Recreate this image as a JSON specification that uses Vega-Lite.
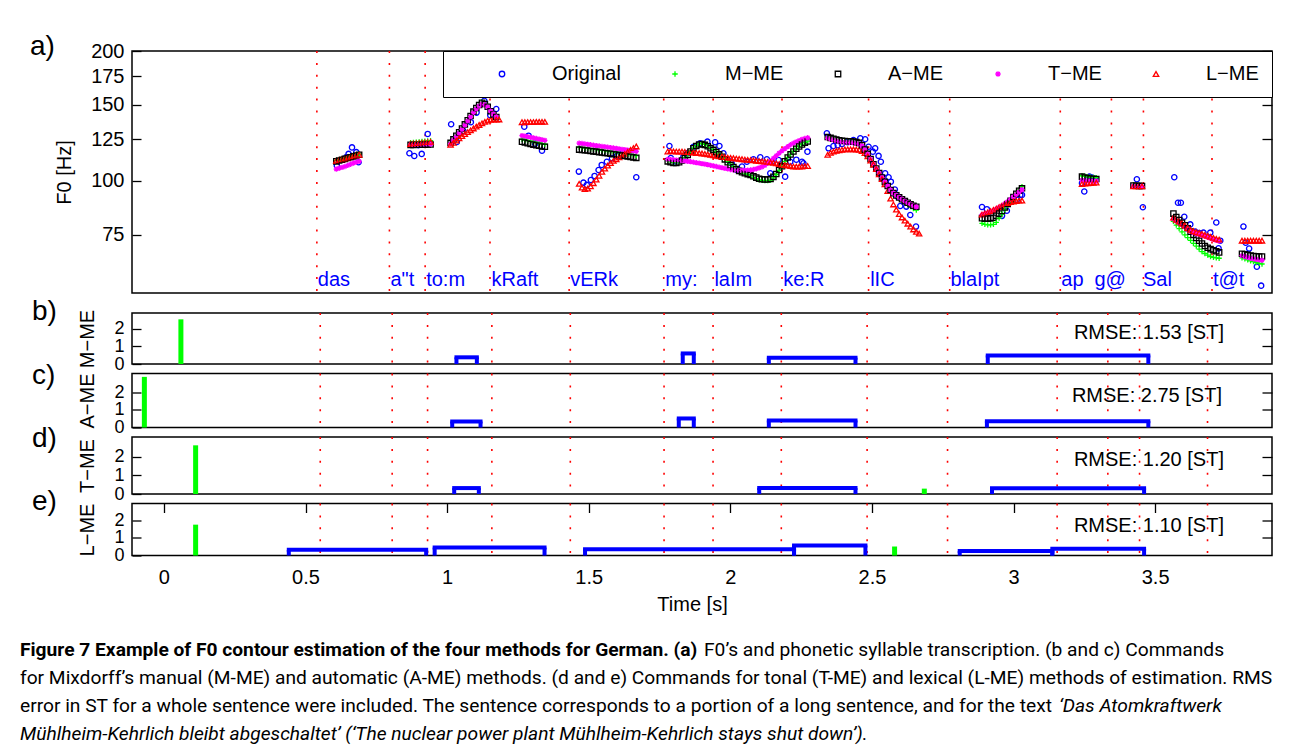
{
"$schema":"https://vega.github.io/schema/vega-lite/v6.json",
"background":"white",
"padding":{"left":20,"top":32,"right":5,"bottom":0},
"bounds":"flush",
"spacing":9.5,
"config":{
 "font":"Liberation Sans",
 "view":{"stroke":"#000000","strokeWidth":1.5},
 "axis":{"labelFont":"Liberation Sans","labelFontSize":20,"labelColor":"#000000","titleFont":"Liberation Sans","titleFontSize":20,"titleFontWeight":"normal","titleColor":"#000000","grid":false,"domain":false,"tickColor":"#000000","tickWidth":1.3,"labelFlush":false,"labelOverlap":false},
 "title":{"fontSize":28,"fontWeight":"normal","anchor":"start","frame":"group","baseline":"alphabetic","color":"#000000","dx":-100,"offset":-17}
},
"datasets":{
 "bounds":[{"t":0.552},{"t":0.806},{"t":0.931},{"t":1.158},{"t":1.435},{"t":1.766},{"t":1.939},{"t":2.18},{"t":2.483},{"t":2.767},{"t":3.154},{"t":3.333},{"t":3.445},{"t":3.685}],
 "syl":[{"t":0.552,"s":"das"},{"t":0.806,"s":"a\"t"},{"t":0.931,"s":"to:m"},{"t":1.16,"s":"kRaft"},{"t":1.435,"s":"vERk"},{"t":1.768,"s":"my:"},{"t":1.94,"s":"laIm"},{"t":2.181,"s":"ke:R"},{"t":2.485,"s":"lIC"},{"t":2.766,"s":"blaIpt"},{"t":3.154,"s":"ap"},{"t":3.27,"s":"g@"},{"t":3.44,"s":"Sal"},{"t":3.685,"s":"t@t"}],
 "imp":[{"p":"M","t":0.06,"a":2.54},{"p":"A","t":-0.069,"a":2.86},{"p":"T","t":0.112,"a":2.63},{"p":"T","t":2.685,"a":0.29},{"p":"L","t":0.112,"a":1.75},{"p":"L","t":2.58,"a":0.51}],
 "acc":[
  {"p":"M","on":1.033,"off":1.105,"a":0.38},{"p":"M","on":1.832,"off":1.871,"a":0.6},{"p":"M","on":2.136,"off":2.442,"a":0.36},{"p":"M","on":2.909,"off":3.476,"a":0.49},
  {"p":"A","on":1.018,"off":1.118,"a":0.34},{"p":"A","on":1.818,"off":1.871,"a":0.51},{"p":"A","on":2.136,"off":2.442,"a":0.4},{"p":"A","on":2.906,"off":3.476,"a":0.36},
  {"p":"T","on":1.025,"off":1.112,"a":0.32},{"p":"T","on":2.102,"off":2.442,"a":0.32},{"p":"T","on":2.924,"off":3.461,"a":0.31},
  {"p":"L","on":0.441,"off":0.926,"a":0.32},{"p":"L","on":0.956,"off":1.344,"a":0.45},{"p":"L","on":1.487,"off":2.225,"a":0.36},{"p":"L","on":2.225,"off":2.477,"a":0.57},{"p":"L","on":2.81,"off":3.137,"a":0.25},{"p":"L","on":3.137,"off":3.461,"a":0.38}
 ],
 "rmse":[{"p":"M","r":"RMSE: 1.53 [ST]"},{"p":"A","r":"RMSE: 2.75 [ST]"},{"p":"T","r":"RMSE: 1.20 [ST]"},{"p":"L","r":"RMSE: 1.10 [ST]"}],
 "cap":[
  {"line":1,"k":"b","text":"Figure 7 Example of F0 contour estimation of the four methods for German. (a)"},
  {"line":1,"k":"r1","text":"F0’s and phonetic syllable transcription. (b and c) Commands"},
  {"line":2,"k":"r","text":"for Mixdorff’s manual (M-ME) and automatic (A-ME) methods. (d and e) Commands for tonal (T-ME) and lexical (L-ME) methods of estimation. RMS"},
  {"line":3,"k":"r","text":"error in ST for a whole sentence were included. The sentence corresponds to a portion of a long sentence, and for the text"},
  {"line":3,"k":"i3","text":"‘Das Atomkraftwerk"},
  {"line":4,"k":"i","text":"Mühlheim-Kehrlich bleibt abgeschaltet’ (‘The nuclear power plant Mühlheim-Kehrlich stays shut down’)."}
 ],
 "f0":[
  {"t":0.622,"O":108.5},{"t":0.655,"O":113.5},{"t":0.663,"O":115.5},{"t":0.675,"O":119.6},{"t":0.69,"O":116.6},{"t":0.698,"O":110.5},
  {"t":0.876,"O":115.9},{"t":0.893,"O":114.2},{"t":0.907,"O":121},{"t":0.919,"O":115.5},{"t":0.94,"O":128.5},
  {"t":1.022,"O":135.3},{"t":1.042,"O":123.1},{"t":1.065,"O":130.5},{"t":1.091,"O":136.8},{"t":1.111,"O":144},{"t":1.138,"O":153.3},{"t":1.159,"O":142},{"t":1.18,"O":146.8},
  {"t":1.278,"O":133.6},{"t":1.293,"O":127.3},{"t":1.316,"O":122},{"t":1.34,"O":117.5},
  {"t":1.469,"O":105.1},{"t":1.485,"O":99.1},{"t":1.497,"O":97.9},{"t":1.511,"O":100.5},{"t":1.524,"O":102.7},{"t":1.538,"O":106},{"t":1.549,"O":108.9},{"t":1.567,"O":110.8},{"t":1.585,"O":112.9},{"t":1.602,"O":114.3},{"t":1.62,"O":115.5},{"t":1.643,"O":116.9},{"t":1.67,"O":102},
  {"t":1.786,"O":120.5},{"t":1.791,"O":113},{"t":1.806,"O":111},{"t":1.835,"O":113.8},{"t":1.85,"O":116},{"t":1.87,"O":120},{"t":1.894,"O":122.3},{"t":1.919,"O":123.3},{"t":1.946,"O":122.9},{"t":1.961,"O":120.5},{"t":1.975,"O":115.9},{"t":1.99,"O":112},{"t":2.004,"O":109.9},{"t":2.022,"O":106},{"t":2.04,"O":108},{"t":2.057,"O":110.8},{"t":2.08,"O":112.2},{"t":2.104,"O":113.4},{"t":2.127,"O":112.2},{"t":2.139,"O":104.2},{"t":2.145,"O":110.8},{"t":2.168,"O":111.8},{"t":2.191,"O":102.3},{"t":2.209,"O":110.8},{"t":2.23,"O":112},{"t":2.25,"O":110.8},{"t":2.255,"O":109.9},{"t":2.269,"O":116.9},
  {"t":2.337,"O":128.9},{"t":2.343,"O":119},{"t":2.36,"O":120.5},{"t":2.375,"O":121},{"t":2.39,"O":121.8},{"t":2.41,"O":123},{"t":2.43,"O":124.4},{"t":2.454,"O":125.5},{"t":2.471,"O":124.9},{"t":2.483,"O":120},{"t":2.498,"O":116.9},{"t":2.506,"O":119},{"t":2.518,"O":114.3},{"t":2.526,"O":110.8},{"t":2.541,"O":104.2},{"t":2.553,"O":102},{"t":2.561,"O":99.6},{"t":2.575,"O":95.5},{"t":2.585,"O":92},{"t":2.594,"O":87.5},{"t":2.615,"O":87.2},{"t":2.629,"O":83.4},{"t":2.649,"O":78.4},
  {"t":2.88,"O":87},{"t":2.897,"O":86},{"t":2.95,"O":83},{"t":2.967,"O":85.3},{"t":2.973,"O":88.8},{"t":3.002,"O":90.4},{"t":3.014,"O":92.8},{"t":3.02,"O":92.8},
  {"t":3.23,"O":98.8},{"t":3.238,"O":94.5},{"t":3.256,"O":102.3},{"t":3.265,"O":101.8},{"t":3.275,"O":101},
  {"t":3.422,"O":100.9},{"t":3.443,"O":86.9},
  {"t":3.553,"O":102},{"t":3.566,"O":89},{"t":3.576,"O":89},{"t":3.588,"O":82.6},{"t":3.609,"O":79.3},{"t":3.626,"O":76.3},{"t":3.64,"O":75.7},{"t":3.655,"O":75.9},{"t":3.679,"O":75.9},{"t":3.7,"O":80.1},{"t":3.708,"O":69.8},{"t":3.714,"O":72.7},
  {"t":3.795,"O":78.4},{"t":3.803,"O":71.9},{"t":3.815,"O":69.7},{"t":3.842,"O":63.3},{"t":3.857,"O":57.2},
  {"t":0.62,"M":111.6,"A":111,"T":106.5,"L":111.3},
  {"t":0.63,"M":112.1,"A":111.5,"T":107,"L":111.8},
  {"t":0.64,"M":112.6,"A":112,"T":107.5,"L":112.2},
  {"t":0.65,"M":113.1,"A":112.5,"T":108,"L":112.7},
  {"t":0.66,"M":113.6,"A":113,"T":108.6,"L":113.2},
  {"t":0.67,"M":114.1,"A":113.5,"T":109.3,"L":113.7},
  {"t":0.68,"M":114.6,"A":114,"T":110,"L":114.2},
  {"t":0.69,"M":115.1,"A":114.5,"T":110.5,"L":114.6},
  {"t":0.7,"M":115.5,"A":115,"T":111,"L":115},
  {"t":0.88,"M":122.6,"A":121.2,"T":121.4,"L":121.8},
  {"t":0.89,"M":122.8,"A":121.2,"T":121.4,"L":122},
  {"t":0.9,"M":123,"A":121.3,"T":121.5,"L":122.2},
  {"t":0.91,"M":123.2,"A":121.3,"T":121.5,"L":122.4},
  {"t":0.92,"M":123.4,"A":121.4,"T":121.6,"L":122.6},
  {"t":0.93,"M":123.6,"A":121.4,"T":121.6,"L":122.8},
  {"t":0.94,"M":123.8,"A":121.5,"T":121.7,"L":123},
  {"t":0.95,"M":124,"A":121.5,"T":121.7,"L":123.2},
  {"t":1.02,"M":123,"A":122.5,"T":122,"L":121.3},
  {"t":1.03,"M":125.3,"A":124.8,"T":124.3,"L":122.6},
  {"t":1.04,"M":127.7,"A":127.2,"T":126.7,"L":124},
  {"t":1.05,"M":130.1,"A":129.6,"T":129.1,"L":125.5},
  {"t":1.06,"M":132.7,"A":132.2,"T":131.7,"L":127},
  {"t":1.07,"M":135.7,"A":135.2,"T":134.7,"L":128.4},
  {"t":1.08,"M":138.7,"A":138.2,"T":137.7,"L":129.8},
  {"t":1.09,"M":141.9,"A":141.4,"T":140.9,"L":131},
  {"t":1.1,"M":145.2,"A":144.7,"T":144.2,"L":132.3},
  {"t":1.11,"M":148,"A":147.5,"T":147,"L":133.6},
  {"t":1.12,"M":150.5,"A":150,"T":149.3,"L":134.8},
  {"t":1.13,"M":152.3,"A":151.8,"T":150.8,"L":136},
  {"t":1.14,"M":151.3,"A":150.8,"T":150.2,"L":137},
  {"t":1.15,"M":149,"A":148.5,"T":148.3,"L":138},
  {"t":1.16,"M":145.5,"A":145,"T":145.2,"L":138.5},
  {"t":1.17,"M":143,"A":142.5,"T":142.8,"L":138.7},
  {"t":1.18,"M":141,"A":140.6,"T":140.8,"L":138.8},
  {"t":1.19,"L":138.8},
  {"t":1.27,"M":124.8,"A":123.2,"T":127.4,"L":136.8},
  {"t":1.28,"M":124.4,"A":122.8,"T":127,"L":136.8},
  {"t":1.29,"M":124,"A":122.3,"T":126.6,"L":136.9},
  {"t":1.3,"M":123.6,"A":121.8,"T":126.2,"L":136.9},
  {"t":1.31,"M":123.2,"A":121.4,"T":125.8,"L":136.9},
  {"t":1.32,"M":122.8,"A":121,"T":125.4,"L":137},
  {"t":1.33,"M":122.4,"A":120.6,"T":125,"L":137},
  {"t":1.34,"M":122,"A":120.2,"T":124.6,"L":137},
  {"t":1.35,"M":121.7,"A":120,"T":124.2,"L":137},
  {"t":1.47,"M":119.6,"A":118.2,"T":122.3,"L":98.5},
  {"t":1.48,"M":119.4,"A":118,"T":122.1,"L":96.5},
  {"t":1.49,"M":119.2,"A":117.8,"T":121.8,"L":95.7},
  {"t":1.5,"M":119,"A":117.6,"T":121.5,"L":96},
  {"t":1.51,"M":118.7,"A":117.3,"T":121.3,"L":97.2},
  {"t":1.52,"M":118.5,"A":117.1,"T":121,"L":98.8},
  {"t":1.53,"M":118.3,"A":116.9,"T":120.7,"L":100.7},
  {"t":1.54,"M":118,"A":116.6,"T":120.5,"L":102.8},
  {"t":1.55,"M":117.8,"A":116.4,"T":120.2,"L":105},
  {"t":1.56,"M":117.5,"A":116.1,"T":120,"L":106.8},
  {"t":1.57,"M":117.3,"A":115.9,"T":119.7,"L":108.5},
  {"t":1.58,"M":117,"A":115.6,"T":119.5,"L":110},
  {"t":1.59,"M":116.8,"A":115.4,"T":119.2,"L":111.3},
  {"t":1.6,"M":116.5,"A":115.1,"T":119,"L":112.3},
  {"t":1.61,"M":116.2,"A":114.8,"T":118.7,"L":113.4},
  {"t":1.62,"M":116,"A":114.6,"T":118.4,"L":114.5},
  {"t":1.63,"M":115.7,"A":114.3,"T":118.2,"L":115.6},
  {"t":1.64,"M":115.4,"A":114,"T":117.9,"L":116.8},
  {"t":1.65,"M":115.1,"A":113.7,"T":117.6,"L":118},
  {"t":1.66,"M":114.8,"A":113.4,"T":117.4,"L":119.1},
  {"t":1.67,"M":114.5,"A":113.1,"T":117.1,"L":120.2},
  {"t":1.78,"M":111.3,"A":111,"T":112.2,"L":117},
  {"t":1.79,"M":110.8,"A":110.5,"T":112.1,"L":117.2},
  {"t":1.8,"M":110.4,"A":110.1,"T":112,"L":117.1},
  {"t":1.81,"M":110.3,"A":110,"T":111.8,"L":117},
  {"t":1.82,"M":110.8,"A":110.5,"T":111.7,"L":117},
  {"t":1.83,"M":111.8,"A":111.5,"T":111.5,"L":116.9},
  {"t":1.84,"M":113.1,"A":112.8,"T":111.3,"L":116.8},
  {"t":1.85,"M":115.1,"A":114.8,"T":111,"L":116.6},
  {"t":1.86,"M":117.3,"A":117,"T":110.8,"L":116.5},
  {"t":1.87,"M":119.3,"A":119,"T":110.5,"L":116.3},
  {"t":1.88,"M":120.8,"A":120.5,"T":110.2,"L":116.1},
  {"t":1.89,"M":121.8,"A":121.5,"T":110,"L":116},
  {"t":1.9,"M":122.1,"A":121.8,"T":109.7,"L":115.8},
  {"t":1.91,"M":121.5,"A":121.2,"T":109.4,"L":115.5},
  {"t":1.92,"M":120.6,"A":120.3,"T":109.1,"L":115.2},
  {"t":1.93,"M":119.4,"A":119.1,"T":108.7,"L":114.9},
  {"t":1.94,"M":118.3,"A":118,"T":108.4,"L":114.6},
  {"t":1.95,"M":116.9,"A":116.6,"T":108,"L":114.3},
  {"t":1.96,"M":115.5,"A":115.2,"T":107.6,"L":114.1},
  {"t":1.97,"M":114.1,"A":113.8,"T":107.3,"L":113.8},
  {"t":1.98,"M":112.5,"A":112.2,"T":106.9,"L":113.6},
  {"t":1.99,"M":110.8,"A":110.5,"T":106.6,"L":113.3},
  {"t":2.0,"M":109.2,"A":108.9,"T":106.3,"L":113.1},
  {"t":2.01,"M":108,"A":107.7,"T":106,"L":112.9},
  {"t":2.02,"M":106.9,"A":106.6,"T":105.9,"L":112.7},
  {"t":2.03,"M":105.8,"A":105.5,"T":105.8,"L":112.5},
  {"t":2.04,"M":105,"A":104.8,"T":105.8,"L":112.3},
  {"t":2.05,"M":104.3,"A":104.2,"T":105.8,"L":112.1},
  {"t":2.06,"M":103.6,"A":103.7,"T":105.9,"L":111.9},
  {"t":2.07,"M":103,"A":103.2,"T":106,"L":111.8},
  {"t":2.08,"M":101.9,"A":102.5,"T":106.3,"L":111.6},
  {"t":2.09,"M":101.2,"A":101.8,"T":106.7,"L":111.4},
  {"t":2.1,"M":100.6,"A":101.2,"T":107.2,"L":111.2},
  {"t":2.11,"M":100.3,"A":100.9,"T":107.8,"L":111},
  {"t":2.12,"M":100.2,"A":100.8,"T":108.6,"L":110.9},
  {"t":2.13,"M":100.2,"A":100.8,"T":109.8,"L":110.7},
  {"t":2.14,"M":100.4,"A":101,"T":111.2,"L":110.4},
  {"t":2.15,"M":101.6,"A":102.2,"T":112.8,"L":110.1},
  {"t":2.16,"M":103.5,"A":103.8,"T":114.4,"L":109.8},
  {"t":2.17,"M":105.8,"A":106,"T":116,"L":109.4},
  {"t":2.18,"M":108.1,"A":108.2,"T":117.5,"L":109.1},
  {"t":2.19,"M":111,"A":111,"T":118.8,"L":108.8},
  {"t":2.2,"M":113.4,"A":113.3,"T":120.1,"L":108.5},
  {"t":2.21,"M":115.4,"A":115.2,"T":121.3,"L":108.2},
  {"t":2.22,"M":117.2,"A":117,"T":122.3,"L":108},
  {"t":2.23,"M":118.9,"A":118.7,"T":123.2,"L":107.9},
  {"t":2.24,"M":120.4,"A":120.2,"T":124,"L":107.9},
  {"t":2.25,"M":121.7,"A":121.5,"T":124.8,"L":108},
  {"t":2.26,"M":122.8,"A":122.6,"T":125.4,"L":108.2},
  {"t":2.27,"M":123.6,"A":123.4,"T":125.9,"L":108.3},
  {"t":2.34,"M":126.4,"A":126.4,"T":125.6,"L":115},
  {"t":2.35,"M":125.8,"A":125.8,"T":125,"L":116.2},
  {"t":2.36,"M":125.2,"A":125.2,"T":124.4,"L":116.9},
  {"t":2.37,"M":124.7,"A":124.7,"T":123.9,"L":117.4},
  {"t":2.38,"M":124.2,"A":124.2,"T":123.4,"L":117.8},
  {"t":2.39,"M":123.9,"A":123.9,"T":123.1,"L":118.1},
  {"t":2.4,"M":123.7,"A":123.7,"T":122.9,"L":118.3},
  {"t":2.41,"M":123.6,"A":123.6,"T":122.8,"L":118.4},
  {"t":2.42,"M":123.5,"A":123.5,"T":122.7,"L":118.4},
  {"t":2.43,"M":123.3,"A":123.3,"T":122.5,"L":118.3},
  {"t":2.44,"M":123,"A":123,"T":122.2,"L":118.2},
  {"t":2.45,"M":122.5,"A":122.5,"T":121.8,"L":118.1},
  {"t":2.46,"M":121,"A":121,"T":120.6,"L":117.3},
  {"t":2.47,"M":118.2,"A":118.2,"T":118,"L":116},
  {"t":2.48,"M":115.5,"A":115.5,"T":115.3,"L":114},
  {"t":2.49,"M":112.4,"A":112.4,"T":112.3,"L":111.5},
  {"t":2.5,"M":109.3,"A":109.3,"T":109.3,"L":109.2},
  {"t":2.51,"M":106.8,"A":106.8,"T":106.8,"L":106.5},
  {"t":2.52,"M":104.3,"A":104.3,"T":104.3,"L":103.6},
  {"t":2.53,"M":101.8,"A":101.8,"T":101.8,"L":101},
  {"t":2.54,"M":99.5,"A":99.5,"T":99.5,"L":98.2},
  {"t":2.55,"M":97.3,"A":97.3,"T":97.3,"L":94.8},
  {"t":2.56,"M":95.3,"A":95.3,"T":95.3,"L":91},
  {"t":2.57,"M":93.7,"A":93.7,"T":93.7,"L":88.2},
  {"t":2.58,"M":92.6,"A":92.6,"T":92.6,"L":85.8},
  {"t":2.59,"M":91.4,"A":91.6,"T":91.6,"L":83.8},
  {"t":2.6,"M":90.2,"A":90.7,"T":90.7,"L":82.3},
  {"t":2.61,"M":89.1,"A":89.8,"T":89.8,"L":80.9},
  {"t":2.62,"M":88.1,"A":89,"T":89,"L":79.6},
  {"t":2.63,"M":87.2,"A":88.3,"T":88.3,"L":78.4},
  {"t":2.64,"M":86.3,"A":87.6,"T":87.6,"L":77.2},
  {"t":2.65,"M":85.6,"A":87.1,"T":87.1,"L":76.2},
  {"t":2.66,"L":75.5},
  {"t":2.88,"M":79.7,"A":82,"T":83.5,"L":83.6},
  {"t":2.89,"M":79.3,"A":81.8,"T":83.9,"L":84.1},
  {"t":2.9,"M":79.1,"A":81.8,"T":84.3,"L":84.6},
  {"t":2.91,"M":79.1,"A":81.9,"T":84.8,"L":85.1},
  {"t":2.92,"M":79.3,"A":82.2,"T":85.4,"L":85.7},
  {"t":2.93,"M":80.2,"A":83,"T":86,"L":86.3},
  {"t":2.94,"M":82,"A":84,"T":86.8,"L":87},
  {"t":2.95,"M":83.8,"A":85.2,"T":87.6,"L":87.7},
  {"t":2.96,"M":85.8,"A":86.8,"T":88.6,"L":88.4},
  {"t":2.97,"M":87.8,"A":88.4,"T":89.6,"L":88.9},
  {"t":2.98,"M":89.8,"A":90,"T":90.7,"L":89.3},
  {"t":2.99,"M":91.8,"A":91.8,"T":91.9,"L":89.6},
  {"t":3.0,"M":93.6,"A":93.4,"T":93,"L":89.8},
  {"t":3.01,"M":95.3,"A":94.9,"T":94.3,"L":90},
  {"t":3.02,"M":97,"A":96.2,"T":95.5,"L":90},
  {"t":3.23,"M":102.8,"A":102.3,"T":100.3,"L":98.4},
  {"t":3.24,"M":102.5,"A":101.8,"T":100.1,"L":98.6},
  {"t":3.25,"M":102.2,"A":101.5,"T":100,"L":98.8},
  {"t":3.26,"M":102,"A":101.3,"T":100,"L":98.9},
  {"t":3.27,"M":101.9,"A":101.2,"T":99.9,"L":99},
  {"t":3.28,"M":101.8,"A":101,"T":99.9,"L":99.1},
  {"t":3.41,"M":97.8,"A":97.6,"T":97.3,"L":97.2},
  {"t":3.42,"M":97.7,"A":97.5,"T":97.2,"L":97.2},
  {"t":3.43,"M":97.6,"A":97.4,"T":97.1,"L":97.2},
  {"t":3.44,"M":97.5,"A":97.3,"T":97,"L":97.2},
  {"t":3.55,"M":80.6,"A":84,"T":81.6,"L":82.2},
  {"t":3.56,"M":79,"A":82.5,"T":80.7,"L":81.3},
  {"t":3.57,"M":77.5,"A":81.2,"T":79.9,"L":80.5},
  {"t":3.58,"M":76.2,"A":80,"T":79.1,"L":79.7},
  {"t":3.59,"M":75,"A":78.9,"T":78.2,"L":78.8},
  {"t":3.6,"M":73.9,"A":77.7,"T":77.2,"L":77.8},
  {"t":3.61,"M":72.8,"A":76.3,"T":76.4,"L":77},
  {"t":3.62,"M":71.7,"A":75,"T":75.9,"L":76.5},
  {"t":3.63,"M":70.6,"A":73.8,"T":75.5,"L":76.1},
  {"t":3.64,"M":69.5,"A":72.7,"T":75.2,"L":75.8},
  {"t":3.65,"M":68.6,"A":71.6,"T":74.8,"L":75.4},
  {"t":3.66,"M":67.9,"A":70.7,"T":74.4,"L":75},
  {"t":3.67,"M":67.3,"A":70,"T":74,"L":74.6},
  {"t":3.68,"M":66.8,"A":69.5,"T":73.6,"L":74.2},
  {"t":3.69,"M":66.5,"A":69.1,"T":73.2,"L":73.8},
  {"t":3.7,"M":66.3,"A":68.7,"T":72.8,"L":73.4},
  {"t":3.71,"M":66.2,"A":68.3,"T":72.5,"L":73.1},
  {"t":3.79,"M":66.3,"A":67.8,"T":67.1,"L":72.7},
  {"t":3.8,"M":66,"A":67.6,"T":66.8,"L":72.7},
  {"t":3.81,"M":65.6,"A":67.4,"T":66.5,"L":72.7},
  {"t":3.82,"M":65.3,"A":67.2,"T":66.2,"L":72.7},
  {"t":3.83,"M":65,"A":67,"T":66,"L":72.7},
  {"t":3.84,"M":64.7,"A":66.9,"T":65.8,"L":72.7},
  {"t":3.85,"M":64.4,"A":66.8,"T":65.6,"L":72.7},
  {"t":3.86,"M":64.2,"A":66.8,"T":65.5,"L":72.7}
 ]
},
"vconcat":[
 {
  "width":1140,"height":242,
  "title":{"text":"a)","dx":-102,"offset":-20},
  "resolve":{"axis":{"y":"independent"}},
  "layer":[
   {"data":{"name":"bounds"},"mark":{"type":"rule","color":"#ff0000","strokeWidth":1.6,"strokeDash":[2,9.9]},
    "encoding":{"x":{"field":"t","type":"quantitative","scale":{"domain":[-0.095,3.895],"nice":false,"zero":false},"axis":null}}},
   {"data":{"name":"f0"},"transform":[{"filter":"isValid(datum.O)"}],"mark":{"type":"point","opacity":0},
    "encoding":{"x":{"field":"t","type":"quantitative","scale":{"domain":[-0.095,3.895],"nice":false,"zero":false},"axis":null},
     "y":{"field":"O","type":"quantitative","scale":{"type":"log","domain":[55,200],"nice":false},"axis":{"orient":"right","values":[75,100,125,150,175,200],"labels":false,"tickSize":-10,"title":null}}}},
   {"data":{"name":"f0"},
    "transform":[{"fold":["O","M","A","T","L"],"as":["key","value"]},{"filter":"isValid(datum.value)"}],
    "mark":{"type":"point","filled":false,"size":28,"strokeWidth":1.3,"opacity":1},
    "encoding":{
     "x":{"field":"t","type":"quantitative","scale":{"domain":[-0.095,3.895],"nice":false,"zero":false},"axis":null},
     "y":{"field":"value","type":"quantitative","scale":{"type":"log","domain":[55,200],"nice":false},
          "axis":{"orient":"left","values":[75,100,125,150,175,200],"format":"d","tickSize":-9,"labelPadding":17,"title":"F0 [Hz]","titleX":-67.5,"titleY":121,"titleBaseline":"middle","titleAngle":-90}},
     "color":{"field":"key","type":"nominal","scale":{"domain":["O","M","A","T","L"],"range":["#0000ff","#00ff00","#000000","#ff00ff","#ff0000"]},
      "legend":{"title":" ","titleOrient":"left","titlePadding":36,"titleFontSize":20,"orient":"top-right","offset":0,"direction":"horizontal","strokeColor":"#000000","fillColor":"#ffffff","padding":13,"labelFontSize":20,"labelOffset":40,"columnPadding":44,"symbolSize":30,"symbolStrokeWidth":1.3,"labelExpr":"{'O':'Original','M':'M−ME','A':'A−ME','T':'T−ME','L':'L−ME'}[datum.label]"}},
     "shape":{"field":"key","type":"nominal","scale":{"domain":["O","M","A","T","L"],"range":["circle","M-1,0L1,0M0,-1L0,1","square","M-1,0L1,0M0,-1L0,1M-0.7,-0.7L0.7,0.7M-0.7,0.7L0.7,-0.7","triangle-up"]},
      "legend":{"title":" ","titleOrient":"left","titlePadding":36,"titleFontSize":20,"orient":"top-right","offset":0,"direction":"horizontal","strokeColor":"#000000","fillColor":"#ffffff","padding":13,"labelFontSize":20,"labelOffset":40,"columnPadding":44,"symbolSize":30,"symbolStrokeWidth":1.3,"labelExpr":"{'O':'Original','M':'M−ME','A':'A−ME','T':'T−ME','L':'L−ME'}[datum.label]"}}
    }},
   {"data":{"name":"syl"},"mark":{"type":"text","align":"left","baseline":"alphabetic","fontSize":20,"color":"#0000ff","dx":1},
    "encoding":{
     "x":{"field":"t","type":"quantitative","scale":{"domain":[-0.095,3.895],"nice":false,"zero":false},"axis":null},
     "y":{"datum":57.1,"type":"quantitative","scale":{"type":"log","domain":[55,200],"nice":false},"axis":null},
     "text":{"field":"s"}}}
  ]
 },
 {"width":1140,"height":1,"view":{"stroke":null},"data":{"values":[{"v":0}]},"mark":{"type":"point","opacity":0},"encoding":{}},
 {
  "width":1140,"height":51,
  "title":{"text":"b)"},
  "resolve":{"axis":{"y":"independent"}},
  "layer":[
   {"data":{"name":"bounds"},"mark":{"type":"rule","color":"#ff0000","strokeWidth":1.6,"strokeDash":[2,9.9]},
    "encoding":{"x":{"field":"t","type":"quantitative","scale":{"domain":[-0.095,3.895],"nice":false,"zero":false},"axis":null}}},
   {"data":{"name":"imp"},"transform":[{"filter":"datum.p=='M'"}],"mark":{"type":"bar","color":"#00ff00","size":5},
    "encoding":{"x":{"field":"t","type":"quantitative","scale":{"domain":[-0.095,3.895],"nice":false,"zero":false},"axis":null},
     "y":{"field":"a","type":"quantitative","scale":{"domain":[0,2.9],"nice":false},"axis":{"orient":"left","values":[0,1,2],"format":"d","tickSize":-9,"labelPadding":17,"labelFontSize":18,"title":"M−ME","titleX":-44.5,"titleY":25.5,"titleBaseline":"middle","titleAngle":-90}}}},
   {"data":{"name":"acc"},"transform":[{"filter":"datum.p=='M'"}],"mark":{"type":"bar","color":"#0000ff","size":4},
    "encoding":{"x":{"field":"on","type":"quantitative","scale":{"domain":[-0.095,3.895],"nice":false,"zero":false},"axis":null},
     "y":{"field":"a","type":"quantitative","scale":{"domain":[0,2.9],"nice":false},"axis":null}}},
   {"data":{"name":"acc"},"transform":[{"filter":"datum.p=='M'"}],"mark":{"type":"bar","color":"#0000ff","size":4},
    "encoding":{"x":{"field":"off","type":"quantitative","scale":{"domain":[-0.095,3.895],"nice":false,"zero":false},"axis":null},
     "y":{"field":"a","type":"quantitative","scale":{"domain":[0,2.9],"nice":false},"axis":null}}},
   {"data":{"name":"acc"},"transform":[{"filter":"datum.p=='M'"}],"mark":{"type":"rule","color":"#0000ff","strokeWidth":4,"strokeCap":"square"},
    "encoding":{"x":{"field":"on","type":"quantitative","scale":{"domain":[-0.095,3.895],"nice":false,"zero":false},"axis":null},"x2":{"field":"off"},
     "y":{"field":"a","type":"quantitative","scale":{"domain":[0,2.9],"nice":false},"axis":{"orient":"right","values":[1,2],"labels":false,"tickSize":-10,"title":null}}}},
   {"data":{"name":"rmse"},"transform":[{"filter":"datum.p=='M'"}],"mark":{"type":"text","align":"right","baseline":"middle","fontSize":20},
    "encoding":{"x":{"datum":3.743,"type":"quantitative","scale":{"domain":[-0.095,3.895],"nice":false,"zero":false},"axis":null},
     "y":{"datum":1.78,"type":"quantitative","scale":{"domain":[0,2.9],"nice":false},"axis":null},
     "text":{"field":"r"}}}
  ]
 },
 {
  "width":1140,"height":54,
  "title":{"text":"c)"},
  "resolve":{"axis":{"y":"independent"}},
  "layer":[
   {"data":{"name":"bounds"},"mark":{"type":"rule","color":"#ff0000","strokeWidth":1.6,"strokeDash":[2,9.9]},
    "encoding":{"x":{"field":"t","type":"quantitative","scale":{"domain":[-0.095,3.895],"nice":false,"zero":false},"axis":null}}},
   {"data":{"name":"imp"},"transform":[{"filter":"datum.p=='A'"}],"mark":{"type":"bar","color":"#00ff00","size":5},
    "encoding":{"x":{"field":"t","type":"quantitative","scale":{"domain":[-0.095,3.895],"nice":false,"zero":false},"axis":null},
     "y":{"field":"a","type":"quantitative","scale":{"domain":[0,3.05],"nice":false},"axis":{"orient":"left","values":[0,1,2],"format":"d","tickSize":-9,"labelPadding":17,"labelFontSize":18,"title":"A−ME","titleX":-44.5,"titleY":27,"titleBaseline":"middle","titleAngle":-90}}}},
   {"data":{"name":"acc"},"transform":[{"filter":"datum.p=='A'"}],"mark":{"type":"bar","color":"#0000ff","size":4},
    "encoding":{"x":{"field":"on","type":"quantitative","scale":{"domain":[-0.095,3.895],"nice":false,"zero":false},"axis":null},
     "y":{"field":"a","type":"quantitative","scale":{"domain":[0,3.05],"nice":false},"axis":null}}},
   {"data":{"name":"acc"},"transform":[{"filter":"datum.p=='A'"}],"mark":{"type":"bar","color":"#0000ff","size":4},
    "encoding":{"x":{"field":"off","type":"quantitative","scale":{"domain":[-0.095,3.895],"nice":false,"zero":false},"axis":null},
     "y":{"field":"a","type":"quantitative","scale":{"domain":[0,3.05],"nice":false},"axis":null}}},
   {"data":{"name":"acc"},"transform":[{"filter":"datum.p=='A'"}],"mark":{"type":"rule","color":"#0000ff","strokeWidth":4,"strokeCap":"square"},
    "encoding":{"x":{"field":"on","type":"quantitative","scale":{"domain":[-0.095,3.895],"nice":false,"zero":false},"axis":null},"x2":{"field":"off"},
     "y":{"field":"a","type":"quantitative","scale":{"domain":[0,3.05],"nice":false},"axis":{"orient":"right","values":[1,2],"labels":false,"tickSize":-10,"title":null}}}},
   {"data":{"name":"rmse"},"transform":[{"filter":"datum.p=='A'"}],"mark":{"type":"text","align":"right","baseline":"middle","fontSize":20},
    "encoding":{"x":{"datum":3.736,"type":"quantitative","scale":{"domain":[-0.095,3.895],"nice":false,"zero":false},"axis":null},
     "y":{"datum":1.79,"type":"quantitative","scale":{"domain":[0,3.05],"nice":false},"axis":null},
     "text":{"field":"r"}}}
  ]
 },
 {
  "width":1140,"height":57,
  "title":{"text":"d)"},
  "resolve":{"axis":{"y":"independent"}},
  "layer":[
   {"data":{"name":"bounds"},"mark":{"type":"rule","color":"#ff0000","strokeWidth":1.6,"strokeDash":[2,9.9]},
    "encoding":{"x":{"field":"t","type":"quantitative","scale":{"domain":[-0.095,3.895],"nice":false,"zero":false},"axis":null}}},
   {"data":{"name":"imp"},"transform":[{"filter":"datum.p=='T'"}],"mark":{"type":"bar","color":"#00ff00","size":5},
    "encoding":{"x":{"field":"t","type":"quantitative","scale":{"domain":[-0.095,3.895],"nice":false,"zero":false},"axis":null},
     "y":{"field":"a","type":"quantitative","scale":{"domain":[0,3.08],"nice":false},"axis":{"orient":"left","values":[0,1,2],"format":"d","tickSize":-9,"labelPadding":17,"labelFontSize":18,"title":"T−ME","titleX":-44.5,"titleY":28.5,"titleBaseline":"middle","titleAngle":-90}}}},
   {"data":{"name":"acc"},"transform":[{"filter":"datum.p=='T'"}],"mark":{"type":"bar","color":"#0000ff","size":4},
    "encoding":{"x":{"field":"on","type":"quantitative","scale":{"domain":[-0.095,3.895],"nice":false,"zero":false},"axis":null},
     "y":{"field":"a","type":"quantitative","scale":{"domain":[0,3.08],"nice":false},"axis":null}}},
   {"data":{"name":"acc"},"transform":[{"filter":"datum.p=='T'"}],"mark":{"type":"bar","color":"#0000ff","size":4},
    "encoding":{"x":{"field":"off","type":"quantitative","scale":{"domain":[-0.095,3.895],"nice":false,"zero":false},"axis":null},
     "y":{"field":"a","type":"quantitative","scale":{"domain":[0,3.08],"nice":false},"axis":null}}},
   {"data":{"name":"acc"},"transform":[{"filter":"datum.p=='T'"}],"mark":{"type":"rule","color":"#0000ff","strokeWidth":4,"strokeCap":"square"},
    "encoding":{"x":{"field":"on","type":"quantitative","scale":{"domain":[-0.095,3.895],"nice":false,"zero":false},"axis":null},"x2":{"field":"off"},
     "y":{"field":"a","type":"quantitative","scale":{"domain":[0,3.08],"nice":false},"axis":{"orient":"right","values":[1,2],"labels":false,"tickSize":-10,"title":null}}}},
   {"data":{"name":"rmse"},"transform":[{"filter":"datum.p=='T'"}],"mark":{"type":"text","align":"right","baseline":"middle","fontSize":20},
    "encoding":{"x":{"datum":3.743,"type":"quantitative","scale":{"domain":[-0.095,3.895],"nice":false,"zero":false},"axis":null},
     "y":{"datum":1.84,"type":"quantitative","scale":{"domain":[0,3.08],"nice":false},"axis":null},
     "text":{"field":"r"}}}
  ]
 },
 {
  "width":1140,"height":52,
  "title":{"text":"e)","offset":-13},
  "resolve":{"axis":{"x":"independent","y":"independent"}},
  "layer":[
   {"data":{"name":"bounds"},"mark":{"type":"rule","color":"#ff0000","strokeWidth":1.6,"strokeDash":[2,9.9]},
    "encoding":{"x":{"field":"t","type":"quantitative","scale":{"domain":[-0.095,3.895],"nice":false,"zero":false},
     "axis":{"orient":"top","values":[0,0.5,1,1.5,2,2.5,3,3.5],"labels":false,"tickSize":-9,"title":null}}}},
   {"data":{"name":"imp"},"transform":[{"filter":"datum.p=='L'"}],"mark":{"type":"bar","color":"#00ff00","size":5},
    "encoding":{"x":{"field":"t","type":"quantitative","scale":{"domain":[-0.095,3.895],"nice":false,"zero":false},
      "axis":{"orient":"bottom","values":[0,0.5,1,1.5,2,2.5,3,3.5],"format":"~g","tickSize":0,"labelPadding":12,"title":"Time [s]","titleX":560,"titleY":49,"titleBaseline":"middle"}},
     "y":{"field":"a","type":"quantitative","scale":{"domain":[0,2.95],"nice":false},"axis":{"orient":"left","values":[0,1,2],"format":"d","tickSize":-9,"labelPadding":17,"labelFontSize":18,"title":"L−ME","titleX":-44.5,"titleY":26,"titleBaseline":"middle","titleAngle":-90}}}},
   {"data":{"name":"acc"},"transform":[{"filter":"datum.p=='L'"}],"mark":{"type":"bar","color":"#0000ff","size":4},
    "encoding":{"x":{"field":"on","type":"quantitative","scale":{"domain":[-0.095,3.895],"nice":false,"zero":false},"axis":null},
     "y":{"field":"a","type":"quantitative","scale":{"domain":[0,2.95],"nice":false},"axis":null}}},
   {"data":{"name":"acc"},"transform":[{"filter":"datum.p=='L'"}],"mark":{"type":"bar","color":"#0000ff","size":4},
    "encoding":{"x":{"field":"off","type":"quantitative","scale":{"domain":[-0.095,3.895],"nice":false,"zero":false},"axis":null},
     "y":{"field":"a","type":"quantitative","scale":{"domain":[0,2.95],"nice":false},"axis":null}}},
   {"data":{"name":"acc"},"transform":[{"filter":"datum.p=='L'"}],"mark":{"type":"rule","color":"#0000ff","strokeWidth":4,"strokeCap":"square"},
    "encoding":{"x":{"field":"on","type":"quantitative","scale":{"domain":[-0.095,3.895],"nice":false,"zero":false},"axis":null},"x2":{"field":"off"},
     "y":{"field":"a","type":"quantitative","scale":{"domain":[0,2.95],"nice":false},"axis":{"orient":"right","values":[1,2],"labels":false,"tickSize":-10,"title":null}}}},
   {"data":{"name":"rmse"},"transform":[{"filter":"datum.p=='L'"}],"mark":{"type":"text","align":"right","baseline":"middle","fontSize":20},
    "encoding":{"x":{"datum":3.743,"type":"quantitative","scale":{"domain":[-0.095,3.895],"nice":false,"zero":false},"axis":null},
     "y":{"datum":1.65,"type":"quantitative","scale":{"domain":[0,2.95],"nice":false},"axis":null},
     "text":{"field":"r"}}}
  ]
 },
 {
  "width":1140,"height":180,"view":{"stroke":null},
  "data":{"name":"cap"},
  "layer":[
   {"transform":[{"filter":"datum.k=='b'"}],"mark":{"type":"text","align":"left","baseline":"middle","font":"Roboto","fontSize":19.2,"fontWeight":"bold","dx":-112},
    "encoding":{"x":{"datum":0,"type":"quantitative","scale":{"domain":[0,1]},"axis":null},"y":{"field":"line","type":"quantitative","scale":{"domain":[-2.036,4.393],"reverse":true},"axis":null},"text":{"field":"text","type":"nominal"}}},
   {"transform":[{"filter":"datum.k=='r1'"}],"mark":{"type":"text","align":"left","baseline":"middle","font":"Roboto","fontSize":19.2,"dx":572},
    "encoding":{"x":{"datum":0,"type":"quantitative","scale":{"domain":[0,1]},"axis":null},"y":{"field":"line","type":"quantitative","scale":{"domain":[-2.036,4.393],"reverse":true},"axis":null},"text":{"field":"text","type":"nominal"}}},
   {"transform":[{"filter":"datum.k=='r'"}],"mark":{"type":"text","align":"left","baseline":"middle","font":"Roboto","fontSize":19.2,"dx":-112},
    "encoding":{"x":{"datum":0,"type":"quantitative","scale":{"domain":[0,1]},"axis":null},"y":{"field":"line","type":"quantitative","scale":{"domain":[-2.036,4.393],"reverse":true},"axis":null},"text":{"field":"text","type":"nominal"}}},
   {"transform":[{"filter":"datum.k=='i3'"}],"mark":{"type":"text","align":"left","baseline":"middle","font":"Roboto","fontSize":19.2,"fontStyle":"italic","dx":927},
    "encoding":{"x":{"datum":0,"type":"quantitative","scale":{"domain":[0,1]},"axis":null},"y":{"field":"line","type":"quantitative","scale":{"domain":[-2.036,4.393],"reverse":true},"axis":null},"text":{"field":"text","type":"nominal"}}},
   {"transform":[{"filter":"datum.k=='i'"}],"mark":{"type":"text","align":"left","baseline":"middle","font":"Roboto","fontSize":19.2,"fontStyle":"italic","dx":-112},
    "encoding":{"x":{"datum":0,"type":"quantitative","scale":{"domain":[0,1]},"axis":null},"y":{"field":"line","type":"quantitative","scale":{"domain":[-2.036,4.393],"reverse":true},"axis":null},"text":{"field":"text","type":"nominal"}}}
  ]
 }
]
}
